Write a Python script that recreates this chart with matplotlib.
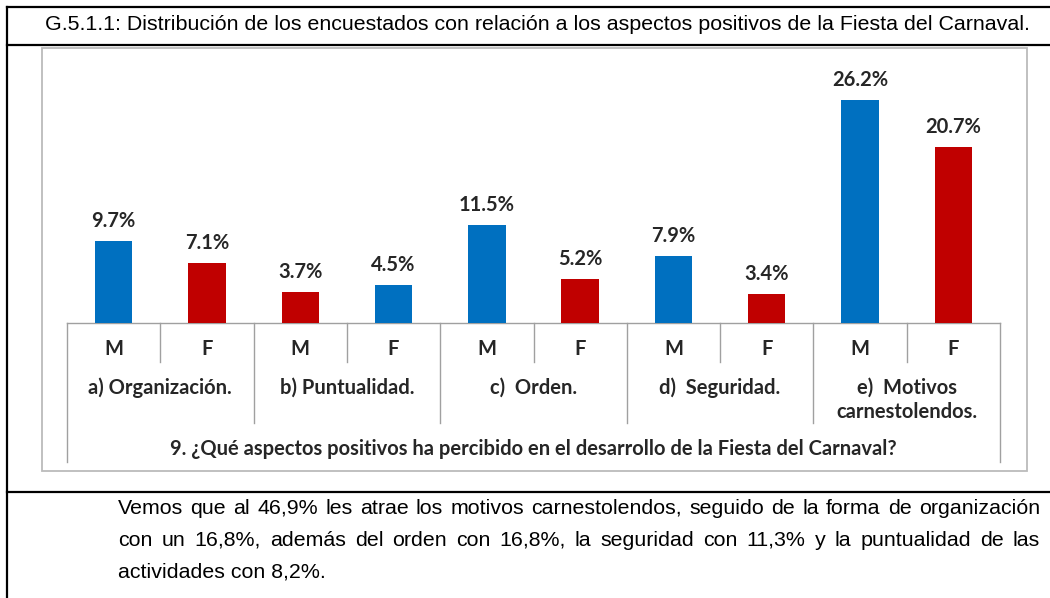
import matplotlib
matplotlib.use("Agg")
import matplotlib.pyplot as plt
from matplotlib import font_manager as fm
from matplotlib.transforms import blended_transform_factory
from matplotlib.patches import Rectangle

# ---------------- data ----------------
sexes = ["M", "F", "M", "F", "M", "F", "M", "F", "M", "F"]
values = [9.7, 7.1, 3.7, 4.5, 11.5, 5.2, 7.9, 3.4, 26.2, 20.7]
bar_colors = ["#0070C0", "#C00000", "#C00000", "#0070C0", "#0070C0",
              "#C00000", "#0070C0", "#C00000", "#0070C0", "#C00000"]
categories = ["a) Organización.", "b) Puntualidad.", "c)  Orden.",
              "d)  Seguridad.", "e)  Motivos\ncarnestolendos."]
question = "9. ¿Qué aspectos positivos ha percibido en el desarrollo de la Fiesta del Carnaval?"
title = "G.5.1.1: Distribución de los encuestados con relación a los aspectos positivos de la Fiesta del Carnaval."
paragraph = [
    "Vemos que al 46,9% les atrae los motivos carnestolendos, seguido de  la forma de organización",
    "con un 16,8%, además del orden con 16,8%, la seguridad con 11,3% y la puntualidad de las",
    "actividades con 8,2%.",
]

# ---------------- fonts ----------------
names = {f.name for f in fm.fontManager.ttflist}
narrow = "Liberation Sans Narrow" if "Liberation Sans Narrow" in names else "Liberation Sans"
chartfont = "Lato" if "Lato" in names else "DejaVu Sans"

W, H = 1050, 598
fig = plt.figure(figsize=(W / 100, H / 100), dpi=100)
fig.patch.set_facecolor("white")

# overlay in pixel coords
ov = fig.add_axes([0, 0, 1, 1])
ov.set_xlim(0, W)
ov.set_ylim(H, 0)
ov.axis("off")

# document table lines
lw_doc = 1.6
ov.plot([7, W], [7, 7], color="black", lw=lw_doc)
ov.plot([7, 7], [7, H], color="black", lw=lw_doc)
ov.plot([7, W], [45, 45], color="black", lw=lw_doc)
ov.plot([7, W], [492, 492], color="black", lw=lw_doc)

# chart frame
ov.add_patch(Rectangle((42, 48), 1027 - 42, 471 - 48, fill=False,
                       edgecolor="#BBBBBB", lw=1.3))

# bar axes
base_px, top_px = 323, 60
px_per_unit = 8.5
ax = fig.add_axes([67 / W, 1 - base_px / H, 933 / W, (base_px - top_px) / H])
ax.set_xlim(-0.5, len(values) - 0.5)
ax.set_ylim(0, (base_px - top_px) / px_per_unit)
ax.axis("off")
x = list(range(len(values)))
ax.bar(x, values, width=0.4, color=bar_colors, zorder=3)
for xi, v in zip(x, values):
    ax.annotate(f"{v:.1f}%", (xi, v), xytext=(0, 14.4), textcoords="offset points",
                ha="center", va="center", fontsize=14.5, fontweight="bold",
                family=chartfont, color="#262626")

# multi-level category table
tr = blended_transform_factory(ax.transData, ov.transData)
gc = "#A0A0A0"
n = len(values)
fs = 14.5
ov.plot([-0.5, n - 0.5], [base_px, base_px], color=gc, lw=1.0, transform=tr)
ov.plot([-0.5, -0.5], [base_px, 462], color=gc, lw=1.0, transform=tr)
ov.plot([n - 0.5, n - 0.5], [base_px, 462], color=gc, lw=1.0, transform=tr)
for k in range(1, len(categories)):
    xb = 2 * k - 0.5
    ov.plot([xb, xb], [base_px, 423], color=gc, lw=1.0, transform=tr)
for k in range(len(categories)):
    xs = 2 * k + 0.5
    ov.plot([xs, xs], [base_px, 362], color=gc, lw=1.0, transform=tr)
for xi, s in zip(x, sexes):
    ov.text(xi, 349, s, transform=tr, ha="center", va="center", fontsize=fs,
            fontweight="bold", family=chartfont, color="#262626")
for k, c in enumerate(categories):
    ov.text(2 * k + 0.5, 400 if "\n" in c else 388, c, transform=tr, ha="center",
            va="center", fontsize=fs, fontweight="bold", family=chartfont,
            color="#262626", linespacing=1.25)
ov.text((n - 1) / 2, 449, question, transform=tr, ha="center", va="center",
        fontsize=fs, fontweight="bold", family=chartfont, color="#262626")

# ---------------- document text ----------------
fig.canvas.draw()
renderer = fig.canvas.get_renderer()


def width_of(s, size):
    t = ov.text(0, 0, s, fontsize=size, family=narrow)
    w = t.get_window_extent(renderer).width
    t.remove()
    return w


# title, fit to width
ts = 10 * 985 / width_of(title, 10)
ov.text(45, 25, title, fontsize=ts, family=narrow, va="center", ha="left", color="black")

# paragraph, justified
x0, x1 = 118, 1040
ps = 10 * 915 / width_of(paragraph[0], 10)
ys = [508, 540, 572]
for li, (line, y) in enumerate(zip(paragraph, ys)):
    if li == len(paragraph) - 1:
        ov.text(x0, y, line, fontsize=ps, family=narrow, va="center", ha="left", color="black")
        continue
    words = line.split()
    ws = [width_of(w_, ps) for w_ in words]
    gap = (x1 - x0 - sum(ws)) / (len(words) - 1)
    cx = x0
    for w_, wd in zip(words, ws):
        ov.text(cx, y, w_, fontsize=ps, family=narrow, va="center", ha="left", color="black")
        cx += wd + gap

fig.savefig("out.png", dpi=100, facecolor="white")
